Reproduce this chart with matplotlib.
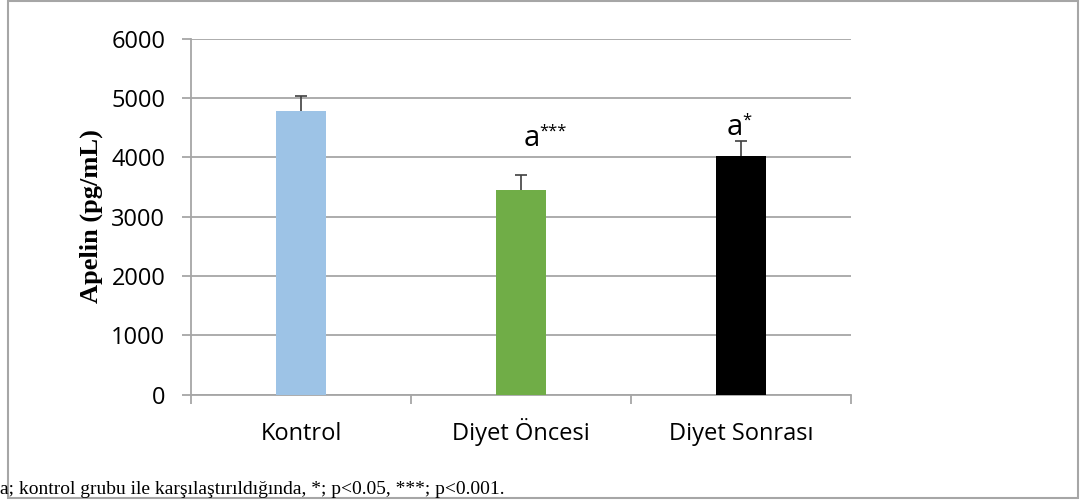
import numpy as np
import matplotlib
matplotlib.use('Agg')
import matplotlib.pyplot as plt
from matplotlib.patches import Rectangle

# values
groups = ['Kontrol', 'Diyet Öncesi', 'Diyet Sonrası']
apelin = [4780, 3450, 4020]
apelin_sd = [245, 250, 250]
colors = ['#9DC3E6', '#70AD47', '#000000']
yticks = [0, 1000, 2000, 3000, 4000, 5000, 6000]
footnote = 'a; kontrol grubu ile karşılaştırıldığında, *; p<0.05, ***; p<0.001.'

sans = ['Open Sans', 'DejaVu Sans']
serif = ['Liberation Serif', 'DejaVu Serif']
grey = '#a6a6a6'

fig = plt.figure(figsize=(10.82, 5.04), dpi=100)
ax = fig.add_axes([191 / 1082, 1 - 394.5 / 504, 660 / 1082, 356 / 504])

x = np.arange(len(groups))
top = np.array(apelin) + np.array(apelin_sd)
ax.bar(x, apelin, width=0.223, color=colors, zorder=3)
# one-sided error bars, cap only at the top
ax.vlines(x, apelin, top, color='#404040', linewidth=1.2, zorder=4)
ax.plot(x, top, linestyle='none', marker='_', markersize=9,
        markeredgewidth=1.2, color='#404040', zorder=4)

ax.set_xlim(-0.5, 2.5)
ax.set_ylim(0, 6000)
ax.set_yticks(yticks)
ax.set_yticklabels([str(v) for v in yticks], fontsize=17, family=sans)
ax.yaxis.grid(True, color=grey, linewidth=1.3, zorder=0)
ax.set_axisbelow(True)

ax.set_xticks(x)
ax.set_xticklabels(groups, fontsize=17, family=sans, va='baseline')
ax.set_xticks(np.arange(-0.5, len(groups)), minor=True)
ax.tick_params(axis='x', which='major', length=0, pad=33)
ax.tick_params(axis='x', which='minor', length=6.5, color=grey, width=1.3, direction='out')
ax.tick_params(axis='y', length=6.5, color=grey, width=1.3, pad=12)

for side in ['top', 'right']:
    ax.spines[side].set_visible(False)
for side in ['left', 'bottom']:
    ax.spines[side].set_color(grey)
    ax.spines[side].set_linewidth(1.3)

ax.set_ylabel('Apelin (pg/mL)', fontsize=19, fontweight='bold', family=serif)
ax.yaxis.set_label_coords(-0.133, 0.5)

# significance marks: (group, stars, x shift of "a", baseline of "a", baseline of stars)
marks = [(1, '***', 0.048, 4190, 4357), (2, '*', -0.028, 4374, 4543)]
for i, stars, dx, ya, ys in marks:
    ax.text(x[i] + dx, ya, 'a', fontsize=21, family=sans, ha='center', va='baseline')
    ax.text(x[i] + dx + 0.034, ys, stars, fontsize=12, family=sans, ha='left', va='baseline')

fig.text(0.0, 1 - 494 / 504, footnote, fontsize=14, family=serif, ha='left', va='baseline')

fig.patches.append(Rectangle((8 / 1082, 1 - 498 / 504), 1070 / 1082, 497 / 504,
                             transform=fig.transFigure, fill=False,
                             edgecolor=grey, linewidth=1.5))

fig.savefig('out.png', dpi=100)
